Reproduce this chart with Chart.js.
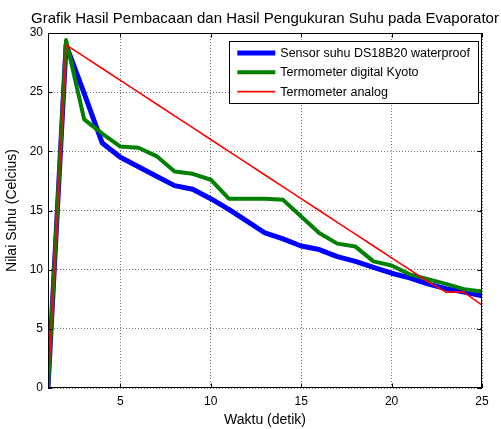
<!DOCTYPE html>
<html>
<head>
<meta charset="utf-8">
<script src="https://cdn.jsdelivr.net/npm/chart.js@4/dist/chart.umd.min.js"></script>
<style>
  html, body { margin: 0; padding: 0; background: #fff; }
  #wrap { width: 501px; height: 429px; }
</style>
</head>
<body>
<div id="wrap"><canvas id="suhuChart"></canvas></div>
<script>
// data
const waktu = [1, 2, 3, 4, 5, 6, 7, 8, 9, 10, 11, 12, 13, 14, 15, 16, 17, 18, 19, 20, 21, 22, 23, 24, 25];
const sensorDS18B20 = [0, 29.0, 24.9, 20.7, 19.5, 18.7, 17.9, 17.1, 16.8, 16.0, 15.1, 14.1, 13.1, 12.6, 12.0, 11.7, 11.1, 10.7, 10.2, 9.7, 9.3, 8.8, 8.4, 8.1, 7.8];
const termoDigital = [0, 29.4, 22.7, 21.5, 20.4, 20.3, 19.6, 18.3, 18.1, 17.6, 16.0, 16.0, 16.0, 15.9, 14.5, 13.1, 12.2, 11.95, 10.7, 10.35, 9.6, 9.2, 8.8, 8.35, 8.15];
const termoAnalog = [0, 29, 28, 27, 26, 25, 24, 23, 22, 21, 20, 19, 18, 17, 16, 15, 14, 13, 12, 11, 10, 9, 8.1, 8.1, 7.0];
const xTicks = [5, 10, 15, 20, 25];
const yTicks = [0, 5, 10, 15, 20, 25, 30];

const FONT = "'Liberation Sans', Arial, sans-serif";
const judul = "Grafik Hasil Pembacaan dan Hasil Pengukuran Suhu pada Evaporator";

const toXY = arr => waktu.map((t, i) => ({ x: t, y: arr[i] }));

// title centred over the axes, plus box, inward ticks and legend inside the plot (MATLAB look)
const matlabPlugin = {
    id: 'matlabLook',
    afterDraw(chart) {
        const ctx = chart.ctx;
        const a = chart.chartArea;
        const xs = chart.scales.x, ys = chart.scales.y;
        ctx.save();

        // title
        ctx.fillStyle = '#000';
        ctx.font = '15px ' + FONT;
        ctx.textAlign = 'center';
        ctx.textBaseline = 'alphabetic';
        ctx.fillText(judul, (a.left + a.right) / 2, 23);

        // axes box
        ctx.strokeStyle = '#000';
        ctx.lineWidth = 1;
        ctx.strokeRect(a.left + 0.5, a.top + 0.5, a.right - a.left - 1, a.bottom - a.top - 1);

        // inward tick marks on all sides
        const tl = 4.5;
        ctx.beginPath();
        xTicks.forEach(v => {
            const px = Math.round(xs.getPixelForValue(v)) + 0.5;
            ctx.moveTo(px, a.bottom); ctx.lineTo(px, a.bottom - tl);
            ctx.moveTo(px, a.top); ctx.lineTo(px, a.top + tl);
        });
        yTicks.forEach(v => {
            const py = Math.round(ys.getPixelForValue(v)) + 0.5;
            ctx.moveTo(a.left, py); ctx.lineTo(a.left + tl, py);
            ctx.moveTo(a.right, py); ctx.lineTo(a.right - tl, py);
        });
        ctx.stroke();

        // legend
        const sets = chart.data.datasets;
        ctx.font = '12.5px ' + FONT;
        const textW = Math.max(...sets.map(d => ctx.measureText(d.label).width));
        const lineLen = 38, gap = 5, pad = 8;
        const w = pad + lineLen + gap + textW + pad;
        const h = 62;
        const right = a.right - 4;
        const left = right - w;
        const top = a.top + 8;
        ctx.fillStyle = '#fff';
        ctx.fillRect(left, top, w, h);
        ctx.strokeStyle = '#000';
        ctx.lineWidth = 1;
        ctx.strokeRect(Math.round(left) + 0.5, top + 0.5, Math.round(w), h);
        ctx.textAlign = 'left';
        ctx.textBaseline = 'middle';
        sets.forEach((d, i) => {
            const cy = top + 12 + i * 19.3;
            ctx.strokeStyle = d.borderColor;
            ctx.lineWidth = d.borderWidth;
            ctx.beginPath();
            ctx.moveTo(left + pad, cy);
            ctx.lineTo(left + pad + lineLen, cy);
            ctx.stroke();
            ctx.fillStyle = '#000';
            ctx.fillText(d.label, left + pad + lineLen + gap, cy + 0.5);
        });

        ctx.restore();
    }
};

const ctx = document.getElementById('suhuChart').getContext('2d');

new Chart(ctx, {
    type: 'line',
    data: {
        datasets: [
            {
                label: 'Sensor suhu DS18B20 waterproof',
                data: toXY(sensorDS18B20),
                borderColor: '#0000ff',
                borderWidth: 5,
                order: 3
            },
            {
                label: 'Termometer digital Kyoto',
                data: toXY(termoDigital),
                borderColor: '#008000',
                borderWidth: 4,
                order: 2
            },
            {
                label: 'Termometer analog',
                data: toXY(termoAnalog),
                borderColor: '#ff0000',
                borderWidth: 1.6,
                order: 1
            }
        ]
    },
    options: {
        responsive: true,
        maintainAspectRatio: false,
        animation: false,
        events: [],
        elements: {
            point: { radius: 0 },
            line: { tension: 0, borderJoinStyle: 'round', fill: false }
        },
        layout: {
            padding: { top: 33, right: 19, bottom: 0, left: 0 }
        },
        plugins: {
            legend: { display: false },
            title: { display: false },
            tooltip: { enabled: false }
        },
        scales: {
            x: {
                type: 'linear',
                min: 1,
                max: 25,
                afterBuildTicks: scale => { scale.ticks = xTicks.map(v => ({ value: v })); },
                afterFit: scale => { scale.height = 41; },
                ticks: {
                    color: '#000',
                    padding: 6,
                    maxRotation: 0,
                    autoSkip: false,
                    font: { family: FONT, size: 12 }
                },
                grid: {
                    color: 'rgba(0,0,0,0.55)',
                    lineWidth: 1,
                    drawTicks: false
                },
                border: { display: false, dash: [1, 2] },
                title: {
                    display: true,
                    text: 'Waktu (detik)',
                    color: '#000',
                    font: { family: FONT, size: 14 },
                    padding: { top: 0, bottom: 0 }
                }
            },
            y: {
                min: 0,
                max: 30,
                afterBuildTicks: scale => { scale.ticks = yTicks.map(v => ({ value: v })); },
                afterFit: scale => { scale.width = 48; },
                ticks: {
                    color: '#000',
                    padding: 5,
                    autoSkip: false,
                    font: { family: FONT, size: 12 }
                },
                grid: {
                    color: 'rgba(0,0,0,0.55)',
                    lineWidth: 1,
                    drawTicks: false
                },
                border: { display: false, dash: [1, 2] },
                title: {
                    display: true,
                    text: 'Nilai Suhu (Celcius)',
                    color: '#000',
                    font: { family: FONT, size: 14 },
                    padding: { top: 4, bottom: 0 }
                }
            }
        }
    },
    plugins: [matlabPlugin]
});
</script>
</body>
</html>
